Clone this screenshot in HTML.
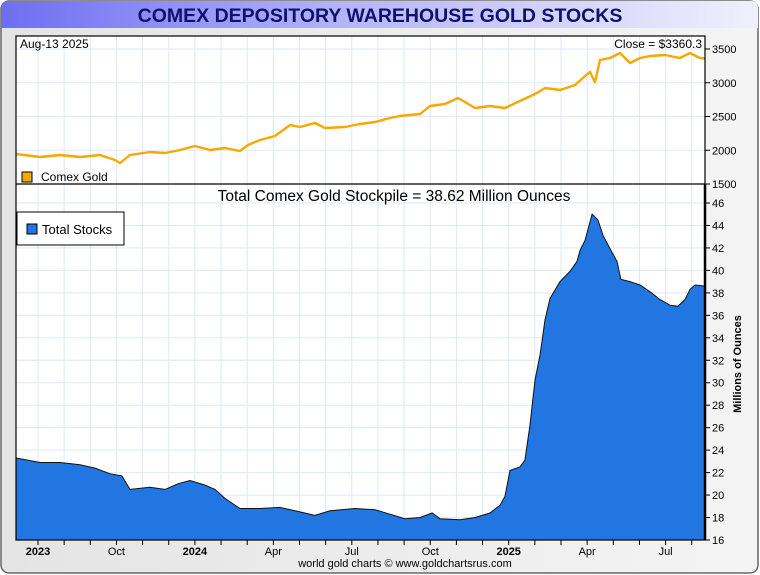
<!DOCTYPE html>
<html><head><meta charset="utf-8"><style>
html,body{margin:0;padding:0;background:#fff;}
svg{display:block;font-family:"Liberation Sans",sans-serif;}
</style></head><body>
<svg id="c" width="760" height="575" viewBox="0 0 760 575">
<defs>
<linearGradient id="tg" x1="0" x2="1" y1="0" y2="0"><stop offset="0" stop-color="#6e6ef2"/><stop offset="0.45" stop-color="#b4b4f8"/><stop offset="1" stop-color="#f0f0fc"/></linearGradient>
<linearGradient id="bg" x1="0" x2="1" y1="0" y2="0"><stop offset="0" stop-color="#e4e4e4"/><stop offset="1" stop-color="#f4f4f4"/></linearGradient>
</defs>
<rect x="1" y="1" width="757" height="572" rx="8" fill="url(#bg)" stroke="#666" stroke-width="1.5"/>
<path d="M1,28 L1,9 Q1,1 9,1 L751,1 Q758,1 758,9 L758,28 Z" fill="url(#tg)"/>
<text x="380" y="22" text-anchor="middle" font-size="19.5" font-weight="bold" fill="#10106e">COMEX DEPOSITORY WAREHOUSE GOLD STOCKS</text>
<rect x="16" y="36" width="689" height="504" fill="#fff"/>
<g id="grid"></g>
<g id="marks"></g>
<rect x="16" y="36" width="689" height="504" fill="none" stroke="#000" stroke-width="1.2"/>
<line x1="16" y1="184" x2="705" y2="184" stroke="#000" stroke-width="1.2"/>
<line x1="705" y1="184" x2="705" y2="540" stroke="#000" stroke-width="2.5"/>
<g id="axes"></g>
<text x="20" y="48" font-size="12" fill="#000">Aug-13  2025</text>
<text x="702" y="48" font-size="12" text-anchor="end" fill="#000">Close = $3360.3</text>
<rect x="22" y="172" width="10" height="10" fill="#f7a800" stroke="#000" stroke-width="1"/>
<text x="41" y="181" font-size="12" fill="#000">Comex Gold</text>
<text x="394" y="201" font-size="15.5" text-anchor="middle" fill="#000">Total Comex Gold Stockpile = 38.62 Million Ounces</text>
<g>
<rect x="17" y="212" width="107" height="33" fill="#fff" stroke="#000" stroke-width="1"/>
<rect x="27" y="224" width="10" height="10" fill="#2276e2" stroke="#000" stroke-width="1"/>
<text x="42" y="234" font-size="13" fill="#000">Total Stocks</text>
</g>
<text transform="translate(741,364) rotate(-90)" font-size="11" font-weight="bold" text-anchor="middle" fill="#000">Millions of Ounces</text>
<text x="405" y="567" font-size="11" text-anchor="middle" fill="#000">world gold charts © www.goldchartsrus.com</text>
</svg>
<script>
// months from Jul 1 2023
const stockMonths=[-0.84,0.08,0.84,1.61,2.18,2.75,3.21,3.52,4.28,4.86,5.35,5.81,6.38,6.77,7.15,7.72,8.49,9.25,10.02,10.59,11.17,12.12,12.89,13.46,14.03,14.61,15.07,15.37,16.14,16.71,17.28,17.67,17.86,18.05,18.43,18.62,18.81,19.01,19.20,19.39,19.58,19.96,20.34,20.61,20.73,20.92,21.19,21.41,21.61,21.95,22.14,22.29,22.64,23.02,23.40,23.79,24.17,24.47,24.74,24.93,25.12,25.51];
const stockValues=[23.3,22.9,22.9,22.7,22.4,21.9,21.7,20.5,20.7,20.5,21.0,21.3,20.9,20.5,19.7,18.8,18.8,18.9,18.5,18.2,18.6,18.8,18.7,18.3,17.9,18.0,18.4,17.9,17.8,18.0,18.4,19.1,19.9,22.2,22.5,23.1,26.2,30.3,32.5,35.6,37.5,39.0,39.9,40.8,41.8,42.7,45.0,44.5,43.1,41.6,40.8,39.2,39.0,38.7,38.1,37.4,36.9,36.8,37.4,38.3,38.7,38.6];
const goldMonths=[-0.84,0.08,0.84,1.61,2.37,2.94,3.14,3.52,4.28,4.86,5.43,6.0,6.58,7.15,7.72,8.03,8.49,9.06,9.64,10.02,10.59,10.98,11.74,12.31,12.89,13.46,13.84,14.61,14.99,15.56,16.06,16.33,16.71,17.28,17.86,18.43,19.01,19.39,19.96,20.54,20.92,21.11,21.30,21.49,21.87,22.26,22.64,23.02,23.40,23.98,24.55,24.93,25.31,25.51];
const goldValues=[1944,1900,1930,1900,1930,1855,1811,1930,1974,1959,2004,2063,2004,2033,1989,2078,2152,2211,2374,2344,2404,2330,2344,2389,2419,2478,2507,2537,2656,2685,2774,2715,2626,2656,2626,2730,2833,2922,2893,2967,3100,3159,3011,3337,3367,3441,3293,3367,3396,3411,3367,3441,3367,3360];
const xTickLabels=["2023","Oct","2024","Apr","Jul","Oct","2025","Apr","Jul"];
const stockTicks=[16,18,20,22,24,26,28,30,32,34,36,38,40,42,44,46];
const goldTicks=[1500,2000,2500,3000,3500];

const NS="http://www.w3.org/2000/svg";
const X=m=>38+m*26.15;
const YS=v=>540-(v-16)*337/30;
const YG=v=>184-(v-1500)*135/2000;
function mk(tag,attrs,parent){const e=document.createElementNS(NS,tag);for(const k in attrs)e.setAttribute(k,attrs[k]);parent.appendChild(e);return e;}
const grid=document.getElementById('grid'),marks=document.getElementById('marks'),axes=document.getElementById('axes');
for(let m=0;m<=25;m++){
  const x=X(m);
  const g=mk('line',{x1:x,y1:36,x2:x,y2:540,stroke:'#dde9f5','stroke-width':1},grid);
  
  
  const t=mk('line',{x1:x,y1:540,x2:x,y2:545,stroke:'#000','stroke-width':1},axes);
  
  
}
xTickLabels.forEach((lab,i)=>{
  const t=mk('text',{x:X(i*3),y:555,'font-size':11,'text-anchor':'middle','font-weight':(/^\d/.test(lab)?'bold':'normal'),fill:'#000'},axes);
  t.textContent=lab;
  
  
});
stockTicks.forEach(v=>{
  const y=YS(v);
  const g=mk('line',{x1:16,y1:y,x2:705,y2:y,stroke:'#dde9f5','stroke-width':1},grid);
  
  
  mk('line',{x1:705,y1:y,x2:710,y2:y,stroke:'#000'},axes);
  const t=mk('text',{x:712,y:y+4,'font-size':11,fill:'#000'},axes);
  t.textContent=v;
  
  
});
goldTicks.forEach(v=>{
  const y=YG(v);
  if(v>1500){const g=mk('line',{x1:16,y1:y,x2:705,y2:y,stroke:'#dde9f5','stroke-width':1},grid);
  
  }
  mk('line',{x1:705,y1:y,x2:710,y2:y,stroke:'#000'},axes);
  const t=mk('text',{x:712,y:y+4,'font-size':11,fill:'#000'},axes);
  t.textContent=v;
  
  
});
let d='M'+Math.max(16,X(stockMonths[0]))+','+540;
stockMonths.forEach((m,i)=>{d+=' L'+Math.min(705,Math.max(16,X(m))).toFixed(1)+','+YS(stockValues[i]).toFixed(1);});
d+=' L'+Math.min(705,X(stockMonths[stockMonths.length-1]))+',540 Z';
const a=mk('path',{d:d,fill:'#2276e2',stroke:'#111','stroke-width':1},marks);


const gp=goldMonths.map((m,i)=>Math.min(705,Math.max(16,X(m))).toFixed(1)+','+YG(goldValues[i]).toFixed(1)).join(' ');
const l=mk('polyline',{points:gp,fill:'none',stroke:'#f7a800','stroke-width':2.4,'stroke-linejoin':'round'},marks);


</script>
</body></html>
